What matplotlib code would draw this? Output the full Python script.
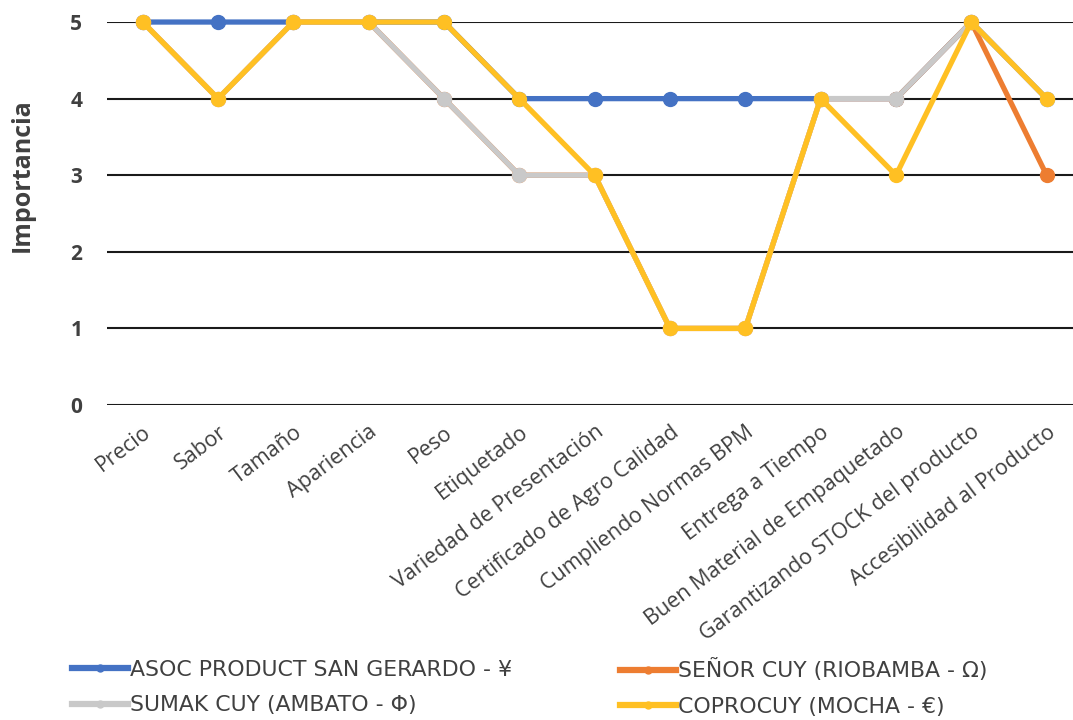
import matplotlib
matplotlib.use("Agg")
import matplotlib.pyplot as plt
from matplotlib.lines import Line2D

# ── data ─────────────────────────────────────────────────────────────────────
categories = [
    "Precio", "Sabor", "Tamaño", "Apariencia", "Peso", "Etiquetado",
    "Variedad de Presentación", "Certificado de Agro Calidad",
    "Cumpliendo Normas BPM", "Entrega a Tiempo",
    "Buen Material de Empaquetado", "Garantizando STOCK del producto",
    "Accesibilidad al Producto",
]
asoc     = [5, 5, 5, 5, 5, 4, 4, 4, 4, 4, 4, 5, 4]
senor    = [5, 4, 5, 5, 4, 3, 3, 1, 1, 4, 4, 5, 3]
sumak    = [5, 4, 5, 5, 4, 3, 3, 1, 1, 4, 4, 5, 4]
coprocuy = [5, 4, 5, 5, 5, 4, 3, 1, 1, 4, 3, 5, 4]
y_ticks = [0, 1, 2, 3, 4, 5]

series = [
    ("ASOC PRODUCT SAN GERARDO - ¥", asoc,     "#4472C4"),
    ("SEÑOR CUY (RIOBAMBA - Ω)",     senor,    "#ED7D31"),
    ("SUMAK CUY (AMBATO - Φ)",       sumak,    "#C9C9C9"),
    ("COPROCUY (MOCHA - €)",         coprocuy, "#FFC023"),
]

plt.rcParams['font.family'] = ['Open Sans', 'DejaVu Sans']

fig = plt.figure(figsize=(10.73, 7.2), dpi=100)
ax = fig.add_axes([0.1, 0.4375, 0.9, 0.5319])

x = list(range(len(categories)))
for label, vals, color in series:
    ax.plot(x, vals, color=color, linewidth=3.8, marker="o", markersize=10,
            label=label, clip_on=False, zorder=3)

ax.set_xlim(-0.47, 12.35)
ax.set_ylim(0, 5)
ax.set_yticks(y_ticks)
ax.set_yticklabels([str(v) for v in y_ticks], fontsize=15, fontweight="bold",
                   color="#404040")
ax.yaxis.grid(True, color="#1a1a1a", linewidth=1.5, zorder=1)
ax.set_axisbelow(True)
for s in ax.spines.values():
    s.set_visible(False)
ax.tick_params(axis="y", length=0, pad=18)
ax.tick_params(axis="x", length=0, pad=12)

ax.set_xticks(x)
ax.set_xticklabels(categories, rotation=37, ha="right", rotation_mode="anchor",
                   fontsize=15.5, color="#404040")
ax.set_ylabel("Importancia", fontsize=18, fontweight="bold", color="#404040")
ax.yaxis.set_label_coords(-0.075, 0.6)

# legend: two columns, filled row by row like the original
leg_font = {"family": "DejaVu Sans", "size": 15.8}
columns = [(0, 2), (1, 3)]
col_x = [72 / 1073, 620 / 1073]
for cols, cx in zip(columns, col_x):
    handles = [Line2D([0], [0], color=series[i][2], linewidth=4.5, marker="o",
                      markersize=5) for i in cols]
    labels = [series[i][0] for i in cols]
    fig.legend(handles, labels, loc="center left",
               bbox_to_anchor=(cx, 0.045), frameon=False, prop=leg_font,
               handlelength=2.55, handletextpad=0.1, borderpad=0,
               borderaxespad=0, labelspacing=0.7, labelcolor="#404040")

fig.savefig("out.png", dpi=100)
